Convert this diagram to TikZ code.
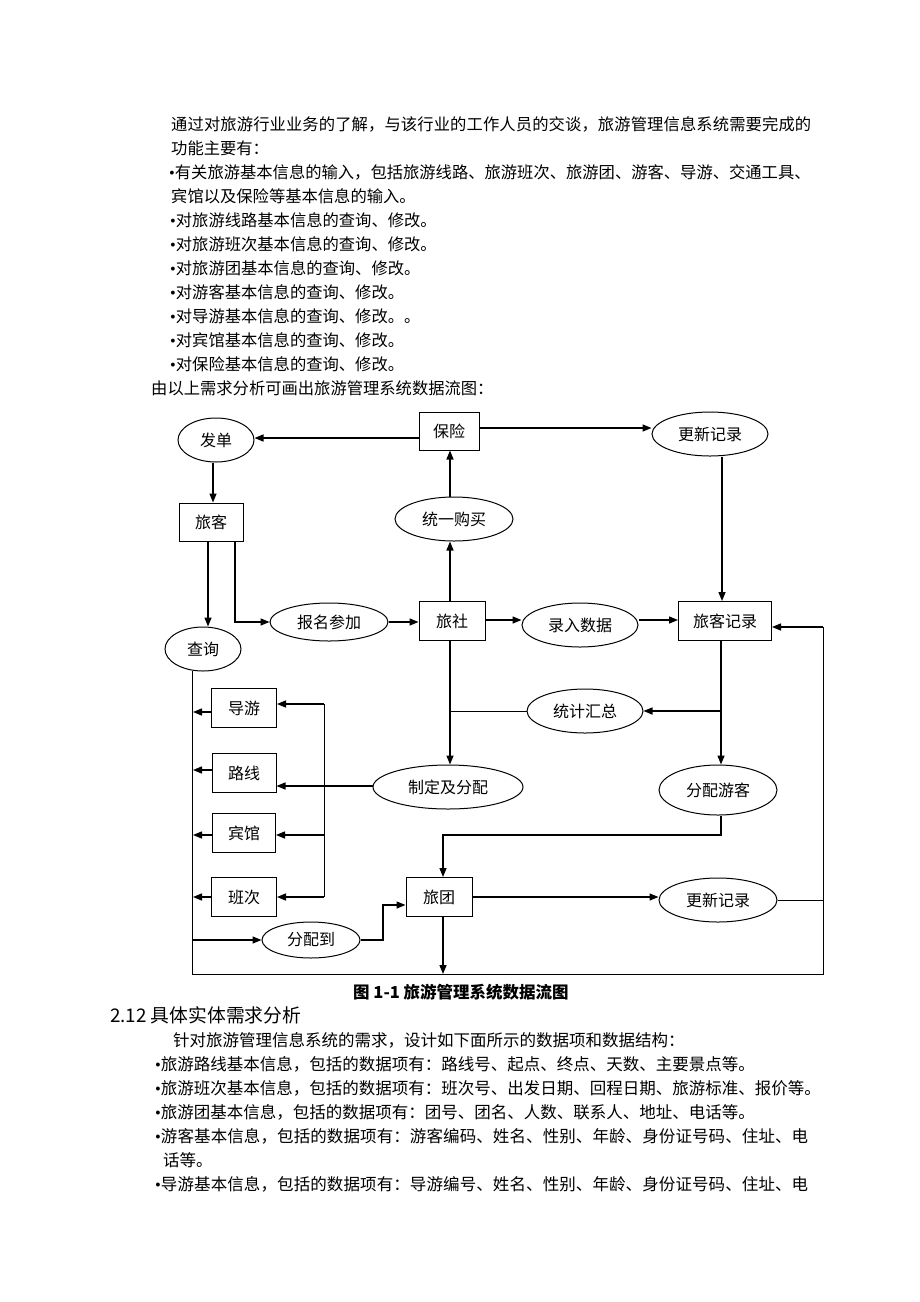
\documentclass[tikz,border=0pt]{standalone}
\usepackage{fontspec}
\setmainfont{Noto Sans CJK SC}
\newfontfamily\lat{Liberation Serif}
\usetikzlibrary{shapes.geometric,arrows.meta}
\newcommand\bul{{\lat •}}
\begin{document}
\begin{tikzpicture}[x=1pt,y=-1pt,
  txt/.style={anchor=west,inner sep=0pt,font=\fontsize{16.3}{16}\selectfont},
  txtb/.style={anchor=west,inner sep=0pt,font=\fontsize{16.5}{16}\selectfont},
  box/.style={draw,line width=1pt,inner sep=0pt,font=\fontsize{16}{16}\selectfont},
  proc/.style={draw,ellipse,line width=1pt,inner sep=0pt,font=\fontsize{16}{16}\selectfont},
  arr/.style={line width=1.4pt,-{Triangle[length=9pt,width=7pt]}},
  ln/.style={line width=0.9pt},
]
\fill[white] (0,0) rectangle (920,1302);
\useasboundingbox (0,0) rectangle (920,1302);

% ---------- top text ----------
\node[txt] (t1) at (171,124) {\addfontfeature{LetterSpace=0.7}通过对旅游行业业务的了解，与该行业的工作人员的交谈，旅游管理信息系统需要完成的};
\node[txt] (t2) at (171,148) {功能主要有：};
\node[txt] (t3) at (169,172) {\bul 有关旅游基本信息的输入，包括旅游线路、旅游班次、旅游团、游客、导游、交通工具、};
\node[txt] (t4) at (171,196) {宾馆以及保险等基本信息的输入。};
\node[txt] (t5) at (170,220) {\bul 对旅游线路基本信息的查询、修改。};
\node[txt] (t6) at (170,244) {\bul 对旅游班次基本信息的查询、修改。};
\node[txt] (t7) at (170,268) {\bul 对旅游团基本信息的查询、修改。};
\node[txt] (t8) at (170,292) {\bul 对游客基本信息的查询、修改。};
\node[txt] (t9) at (170,316) {\bul 对导游基本信息的查询、修改。。};
\node[txt] (t10) at (170,340) {\bul 对宾馆基本信息的查询、修改。};
\node[txt] (t11) at (170,364) {\bul 对保险基本信息的查询、修改。};
\node[txt] (t12) at (151,388) {由以上需求分析可画出旅游管理系统数据流图：};

% ---------- diagram nodes ----------
\node[box,minimum width=60pt,minimum height=38pt] (baoxian) at (449,431) {保险};
\node[box,minimum width=64pt,minimum height=38pt] (lvke) at (211,522) {旅客};
\node[box,minimum width=66pt,minimum height=39pt] (lvshe) at (452,621) {旅社};
\node[box,minimum width=93pt,minimum height=39pt] (lkjl) at (725,621) {旅客记录};
\node[box,minimum width=65pt,minimum height=39pt] (daoyou) at (244,708) {导游};
\node[box,minimum width=64pt,minimum height=39pt] (luxian) at (244,773) {路线};
\node[box,minimum width=63pt,minimum height=39pt] (binguan) at (244,833) {宾馆};
\node[box,minimum width=65pt,minimum height=39pt] (banci) at (244,897) {班次};
\node[box,minimum width=66pt,minimum height=39pt] (lvtuan) at (439,897) {旅团};

\node[proc,minimum width=76pt,minimum height=44pt] (fadan) at (216,440) {发单};
\node[proc,minimum width=76pt,minimum height=44pt] (chaxun) at (203,649) {查询};
\node[proc,minimum width=118pt,minimum height=38pt] (baoming) at (329,622) {报名参加};
\node[proc,minimum width=118pt,minimum height=44pt] (tongyi) at (454,519) {统一购买};
\node[proc,minimum width=116pt,minimum height=44pt] (gx1) at (710,434) {更新记录};
\node[proc,minimum width=116pt,minimum height=44pt] (luru) at (580,625) {录入数据};
\node[proc,minimum width=116pt,minimum height=44pt] (tongji) at (585,711) {统计汇总};
\node[proc,minimum width=150pt,minimum height=44pt] (zhiding) at (448,787) {制定及分配};
\node[proc,minimum width=118pt,minimum height=50pt] (fpyk) at (718,790) {分配游客};
\node[proc,minimum width=118pt,minimum height=44pt] (gx2) at (718,900) {更新记录};
\node[proc,minimum width=98pt,minimum height=36pt] (fpd) at (311,940) {分配到};

\coordinate (L) at (193,0);
\coordinate (jt) at (721,711);
\coordinate (jl) at (450,711);
\coordinate (rb) at (823,974);
\coordinate (rt) at (823,627);
\coordinate (c1) at (324,704);
\coordinate (c3) at (324,835);
\coordinate (c4) at (324,897);
\coordinate (k) at (383,905);

% ---------- connectors ----------
\draw[arr] (baoxian.west |- 0,438) -- (fadan.east |- 0,438);
\draw[arr] (fadan.south -| 213,0) -- (lvke.north -| 213,0);
\draw[arr] (lvke.south -| 208,0) -- (chaxun.north -| 208,0);
\draw[arr] (lvke.south -| 235,0) |- (baoming.west);
\draw[arr] (baoming.east) -- (lvshe.west |- baoming.east);
\draw[arr] (lvshe.north -| 450,0) -- (tongyi.south -| 450,0);
\draw[arr] (tongyi.north -| 450,0) -- (baoxian.south -| 450,0);
\draw[arr] (baoxian.east |- 0,428) -- (gx1.west |- 0,428);
\draw[arr] (gx1.south -| 722,0) -- (lkjl.north -| 722,0);
\draw[arr] (lvshe.east |- 0,620) -- (luru.west |- 0,620);
\draw[arr] (luru.east |- 0,620) -- (lkjl.west |- 0,620);
\draw[arr] (lkjl.south -| jt) -- (fpyk.north -| jt);
\draw[arr] (jt) -- (tongji.east);
\draw[ln] (tongji.west) -- (jl);
\draw[arr] (lvshe.south -| jl) -- (zhiding.north -| jl);
\draw[arr] (zhiding.west |- 0,786) -- (luxian.east |- 0,786);
\draw[ln] (c1) -- (c4);
\draw[arr] (c1) -- (daoyou.east |- c1);
\draw[arr] (c3) -- (binguan.east |- c3);
\draw[arr] (c4) -- (banci.east |- c4);
\draw[arr] (daoyou.west |- 0,712) -- (L |- 0,712);
\draw[arr] (luxian.west |- 0,770) -- (L |- 0,770);
\draw[arr] (binguan.west |- 0,835) -- (L |- 0,835);
\draw[arr] (banci.west |- 0,897) -- (L |- 0,897);
\draw[ln] (chaxun.245) |- (rb) -- (rt);
\draw[arr] (rt) -- (lkjl.east |- rt);
\draw[arr] (L |- fpd.west) -- (fpd.west);
\draw[arr] (fpd.east) -| (k) -- (lvtuan.west |- k);
\draw[arr] (fpyk.south -| jt) |- (443,835) -- (lvtuan.north -| 443,0);
\draw[arr] (lvtuan.east) -- (gx2.west |- lvtuan.east);
\draw[ln] (gx2.east) -- (gx2.east -| rb);
\draw[arr] (lvtuan.south -| 443,0) -- (rb -| 443,0);

% ---------- caption ----------
\node[anchor=west,inner sep=0pt,font=\fontsize{16.5}{17}\selectfont\bfseries] (cap) at (353,992) {图 1-1 旅游管理系统数据流图};

% ---------- bottom text ----------
\node[anchor=west,inner sep=0pt,font=\fontsize{18.8}{18}\selectfont] (h1) at (110,1015) {2.12 具体实体需求分析};
\node[txtb] (b1) at (173,1040) {针对旅游管理信息系统的需求，设计如下面所示的数据项和数据结构：};
\node[txtb] (b2) at (155,1064) {\bul 旅游路线基本信息，包括的数据项有：路线号、起点、终点、天数、主要景点等。};
\node[txtb] (b3) at (155,1088) {\bul 旅游班次基本信息，包括的数据项有：班次号、出发日期、回程日期、旅游标准、报价等。};
\node[txtb] (b4) at (155,1112) {\bul 旅游团基本信息，包括的数据项有：团号、团名、人数、联系人、地址、电话等。};
\node[txtb] (b5) at (155,1136) {\bul\addfontfeature{LetterSpace=0.6}游客基本信息，包括的数据项有：游客编码、姓名、性别、年龄、身份证号码、住址、电};
\node[txtb] (b6) at (163,1160) {话等。};
\node[txtb] (b7) at (155,1184) {\bul\addfontfeature{LetterSpace=0.6}导游基本信息，包括的数据项有：导游编号、姓名、性别、年龄、身份证号码、住址、电};
\end{tikzpicture}
\end{document}
